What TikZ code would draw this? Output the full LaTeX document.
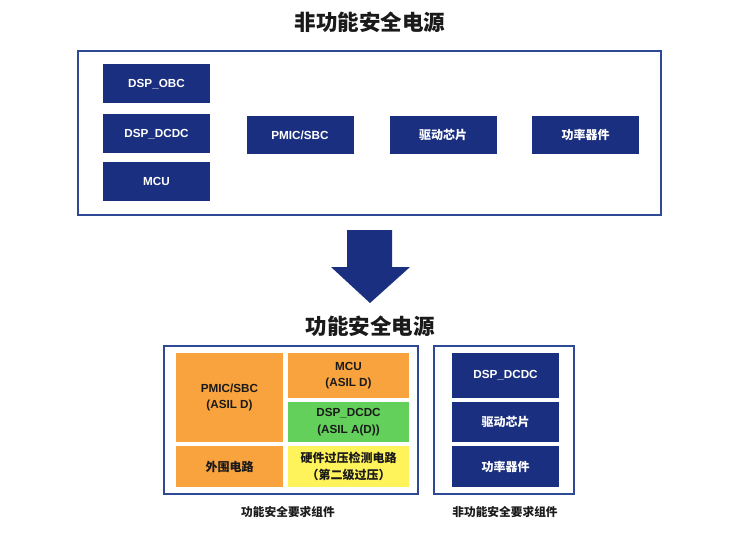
\documentclass[tikz,border=0pt]{standalone}
\usepackage{fontspec}
\setmainfont{Liberation Sans}
\newfontfamily\cjk{Noto Sans CJK SC}
\definecolor{navy}{HTML}{1B2F80}
\definecolor{frame}{HTML}{2E4A96}
\definecolor{orng}{HTML}{F8A33D}
\definecolor{grn}{HTML}{62D05A}
\definecolor{ylw}{HTML}{FFF35C}
\definecolor{ink}{HTML}{1A1A1A}
\tikzset{
  navybox/.style={fill=navy, text=white, font=\bfseries\fontsize{11.7}{13}\selectfont, inner sep=0pt, align=center},
  navycjk/.style={navybox, font=\cjk\bfseries\fontsize{12}{14}\selectfont},
  colbox/.style={text=ink, font=\bfseries\fontsize{11.7}{16.5}\selectfont, inner sep=0pt, align=center},
  colcjk/.style={colbox, font=\cjk\bfseries\fontsize{12}{16.5}\selectfont},
  framebox/.style={draw=frame, line width=1.6pt, fill=white},
  titletext/.style={font=\cjk\bfseries\fontsize{21.5}{24}\selectfont, text=ink},
  captext/.style={font=\cjk\bfseries\fontsize{11.7}{13}\selectfont, text=ink},
}
\begin{document}
\begin{tikzpicture}[x=1pt,y=-1pt]
\useasboundingbox (0,0) rectangle (741,556);
\fill[white] (0,0) rectangle (741,556);
% top
\node[titletext] (t1) at (370,22) {非功能安全电源};
\draw[framebox] (78,51) rectangle (661,215);
\node[navybox, minimum width=107pt, minimum height=39pt] (obc) at (156.5,84) {DSP\_OBC};
\node[navybox, minimum width=107pt, minimum height=39pt] (dcdc1) at (156.5,134) {DSP\_DCDC};
\node[navybox, minimum width=107pt, minimum height=39pt] (mcu1) at (156.5,181.5) {MCU};
\node[navybox, minimum width=107pt, minimum height=38pt] (pmic1) at (300,135) {PMIC/SBC};
\node[navycjk, minimum width=107pt, minimum height=38pt] (drv1) at (443,135) {驱动芯片};
\node[navycjk, minimum width=107pt, minimum height=38pt] (pwr1) at (585.5,135) {功率器件};
% arrow
\fill[navy] (347,230) -- (392,230) -- (392,267) -- (410,267) -- (370,303) -- (331,267) -- (347,267) -- cycle;
% bottom
\node[titletext] (t2) at (370,326) {功能安全电源};
\draw[framebox] (164,346) rectangle (418,494);
\draw[framebox] (434,346) rectangle (574,494);
\node[colbox, fill=orng, minimum width=107pt, minimum height=89pt] (pmic2) at (229.5,397.5) {PMIC/SBC\\(ASIL D)};
\node[colbox, fill=orng, minimum width=121pt, minimum height=45pt] (mcu2) at (348.5,375.5) {MCU\\(ASIL D)};
\node[colbox, fill=grn, minimum width=121pt, minimum height=40pt] (dcdc2) at (348.5,422) {DSP\_DCDC\\(ASIL A(D))};
\node[colcjk, fill=orng, minimum width=107pt, minimum height=41pt] (peri) at (229.5,466.5) {外围电路};
\node[colcjk, fill=ylw, minimum width=121pt, minimum height=41pt] (ovp) at (348.5,466.5) {硬件过压检测电路\\（第二级过压）};
\node[navybox, minimum width=107pt, minimum height=45pt] (dcdc3) at (505.5,375.5) {DSP\_DCDC};
\node[navycjk, minimum width=107pt, minimum height=40pt] (drv3) at (505.5,422) {驱动芯片};
\node[navycjk, minimum width=107pt, minimum height=41pt] (pwr3) at (505.5,466.5) {功率器件};
\node[captext] (c1) at (288,512) {功能安全要求组件};
\node[captext] (c2) at (505,512) {非功能安全要求组件};
\end{tikzpicture}
\end{document}
